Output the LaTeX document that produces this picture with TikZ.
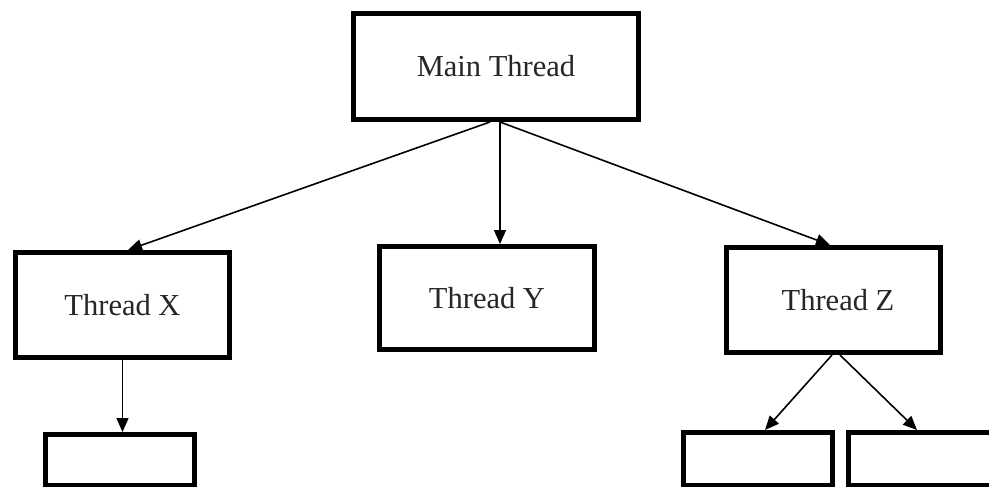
\documentclass[tikz,border=0pt]{standalone}
\usepackage{fontspec}
\setmainfont{Liberation Serif}
\usetikzlibrary{arrows.meta}
\begin{document}
\begin{tikzpicture}[x=1pt,y=-1pt,
  box/.style={draw=black,line width=5pt,fill=white,rectangle,inner sep=0pt,
    font=\fontsize{30.5}{34}\selectfont,text=black!85},
  arr/.style={line width=1.6pt,-{Triangle[length=14pt,width=12pt]}}]
\useasboundingbox[fill=white] (0,0) rectangle (989,487);
\node[box,minimum width=285.5pt,minimum height=106pt] (main) at (496,66.5) {Main Thread};
\node[box,minimum width=214pt,minimum height=105pt] (tx) at (122.5,305) {Thread X};
\node[box,minimum width=215pt,minimum height=103pt] (ty) at (487,298) {Thread Y};
\node[box,minimum width=214pt,minimum height=105pt] (tz) at (833.5,300) {\hspace*{9pt}Thread Z};
\node[box,minimum width=149pt,minimum height=51pt] (bl) at (120,460) {};
\node[box,minimum width=149pt,minimum height=53pt] (z1) at (758,459) {};
\node[box,minimum width=143.5pt,minimum height=53pt] (z2) at (920.25,459) {};
\draw[arr] ([xshift=-6pt]main.south) -- ([xshift=5.5pt]tx.north);
\draw[arr] ([xshift=4pt]main.south) -- ([xshift=13pt]ty.north);
\draw[arr] ([xshift=4pt]main.south) -- ([xshift=-3.5pt]tz.north);
\draw[arr] (tx.south) -- (tx.south |- bl.north);
\draw[arr] ([xshift=-1.5pt]tz.south) -- ([xshift=7pt]z1.north);
\draw[arr] ([xshift=6.5pt]tz.south) -- ([xshift=-3.25pt]z2.north);
\end{tikzpicture}
\end{document}
